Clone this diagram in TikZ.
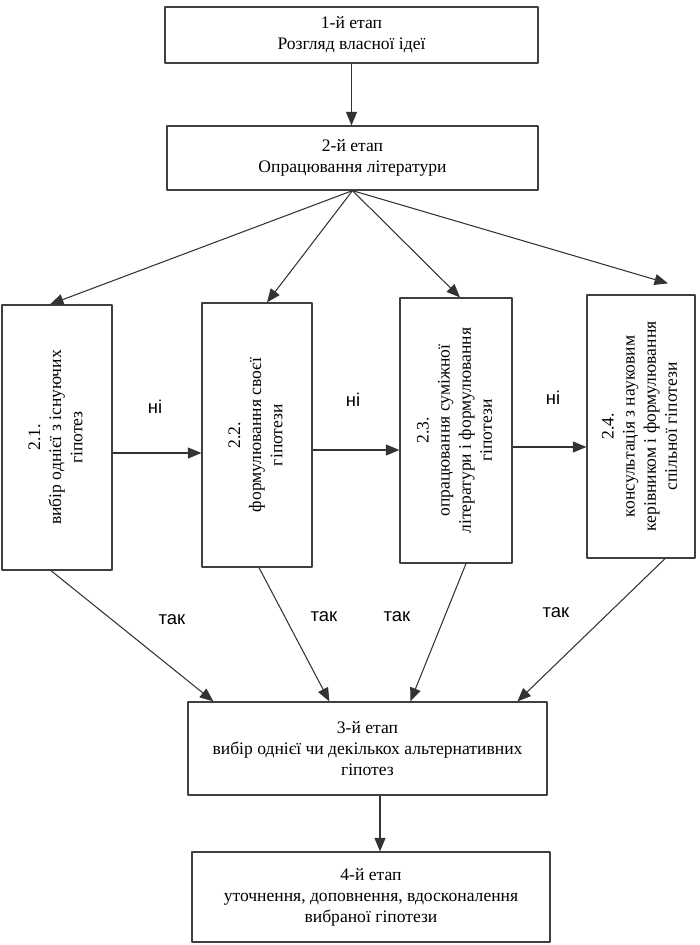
\documentclass[tikz,border=0pt]{standalone}
\usepackage{fontspec}
\setmainfont{Liberation Serif}
\newfontfamily\lblfont{Liberation Sans}
\usetikzlibrary{arrows.meta}
\newcommand{\vtxt}[1]{\rotatebox{90}{\begin{tabular}{@{}c@{}}#1\end{tabular}}}
\begin{document}
\begin{tikzpicture}[line join=round,>={Triangle[length=2.7mm,width=2.2mm]},font=\fontsize{10}{12}\selectfont,
	etap/.style={draw=black!75,line width=0.7pt,align=center,inner sep=2pt},
	strilka/.style={->,draw=black!80,line width=0.6pt},
	vidp/.style={font=\lblfont\fontsize{10.5}{12}\selectfont,inner sep=1pt}]
	\useasboundingbox (0,0) rectangle (14,-18.9);
	%Етапи 1 і 2
	\node[etap,minimum width=7.46cm,minimum height=1.12cm] (et1) at (7.03,-0.70) {1-й етап\\Розгляд власної ідеї};
	\node[etap,minimum width=7.42cm,minimum height=1.28cm] (et2) at (7.05,-3.16) {2-й етап\\Опрацювання літератури};
	\draw[strilka] (et1.south) -- (et1.south |- et2.north);
	%Підетапи 2.1 - 2.4
	\node[etap,minimum width=2.2cm,minimum height=5.3cm] (p21) at (1.14,-8.75) {\vtxt{2.1.\\вибір однієї з існуючих\\гіпотез}};
	\node[etap,minimum width=2.2cm,minimum height=5.28cm] (p22) at (5.14,-8.70) {\vtxt{2.2.\\формулювання своєї\\гіпотези}};
	\node[etap,minimum width=2.24cm,minimum height=5.3cm] (p23) at (9.12,-8.61) {\vtxt{2.3.\\опрацювання суміжної\\літератури і формулювання\\гіпотези}};
	\node[etap,minimum width=2.16cm,minimum height=5.26cm] (p24) at (12.82,-8.53) {\vtxt{2.4.\\консультація з науковим\\керівником і формулювання\\спільної гіпотези}};
	\draw[strilka] (et2.south) -- ([xshift=-0.14cm]p21.north);
	\draw[strilka] (et2.south) -- ([xshift=0.2cm]p22.north);
	\draw[strilka] (et2.south) -- ([xshift=0.08cm]p23.north);
	\draw[strilka] (et2.south) -- ([xshift=0.54cm,yshift=0.22cm]p24.north);
	%Стрілки "ні"
	\coordinate (n1) at ([yshift=-0.31cm]p21.east);
	\coordinate (n2) at ([yshift=-0.30cm]p22.east);
	\coordinate (n3) at ([yshift=-0.33cm]p23.east);
	\draw[strilka] (n1) -- (n1 -| p22.west);
	\draw[strilka] (n2) -- (n2 -| p23.west);
	\draw[strilka] (n3) -- (n3 -| p24.west);
	\node[vidp] (ni1) at (3.1,-8.14) {ні};
	\node[vidp] (ni2) at (7.06,-8.0) {ні};
	\node[vidp] (ni3) at (11.06,-7.96) {ні};
	%Етапи 3 і 4
	\node[etap,minimum width=7.18cm,minimum height=1.86cm] (et3) at (7.35,-14.97) {3-й етап\\вибір однієї чи декількох альтернативних\\гіпотез};
	\node[etap,minimum width=7.16cm,minimum height=1.8cm] (et4) at (7.42,-17.94) {4-й етап\\уточнення, доповнення, вдосконалення\\вибраної гіпотези};
	\draw[strilka] ([xshift=0.25cm]et3.south) -- ([xshift=0.25cm]et3.south |- et4.north);
	%Стрілки "так"
	\draw[strilka] ([xshift=-0.12cm]p21.south) -- ([xshift=0.52cm]et3.north west);
	\draw[strilka] ([xshift=0.04cm]p22.south) -- ([xshift=2.84cm]et3.north west);
	\draw[strilka] ([xshift=0.2cm]p23.south) -- ([xshift=4.46cm]et3.north west);
	\draw[strilka] ([xshift=0.48cm]p24.south) -- ([xshift=6.6cm]et3.north west);
	\node[vidp] (tak1) at (3.44,-12.4) {так};
	\node[vidp] (tak2) at (6.48,-12.34) {так};
	\node[vidp] (tak3) at (7.94,-12.34) {так};
	\node[vidp] (tak4) at (11.12,-12.26) {так};
\end{tikzpicture}
\end{document}
